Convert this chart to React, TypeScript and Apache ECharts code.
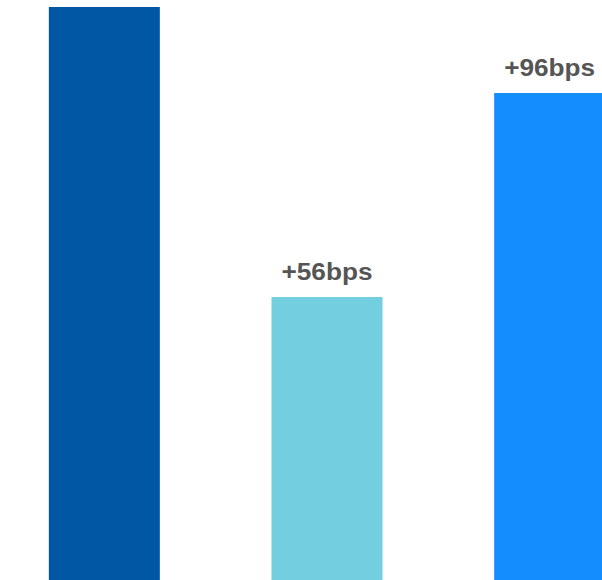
import React, { useEffect, useRef } from "react";
import * as echarts from "echarts";

const categories = ["A", "B", "C"];
const values = [573, 283, 487];
const labels = ["", "+56bps", "+96bps"];
const colors = ["#0057A4", "#73CFE0", "#148EFF"];

export default function App() {
  const ref = useRef<HTMLDivElement>(null);
  useEffect(() => {
    if (!ref.current) return;
    const chart = echarts.init(ref.current, null, { renderer: "svg" });
    chart.setOption({
      animation: false,
      grid: { left: 0, right: 0, top: 0, bottom: 0 },
      xAxis: {
        type: "category",
        data: categories,
        show: false,
      },
      yAxis: { type: "value", min: 0, max: 580, show: false },
      series: [
        {
          type: "bar",
          barWidth: 111,
          data: values.map((v, i) => ({
            value: v,
            itemStyle: { color: colors[i] },
          })),
        },
      ],
    });
    const texts = labels
      .map((t, i) => {
        if (!t) return null;
        const pt = chart.convertToPixel({ seriesIndex: 0 }, [i, values[i]]) as number[];
        return {
          type: "text",
          x: pt[0],
          y: pt[1] - 13,
          scaleX: 1.14,
          style: {
            text: t,
            x: 0,
            y: 0,
            align: "center",
            verticalAlign: "bottom",
            fontFamily: "Liberation Sans, Arial, sans-serif",
            fontWeight: "bold",
            fontSize: 23,
            fill: "#555555",
          },
        };
      })
      .filter(Boolean);
    chart.setOption({ graphic: texts });
    return () => chart.dispose();
  }, []);
  return (
    <div
      style={{
        position: "absolute",
        left: 0,
        top: 0,
        width: 602,
        height: 580,
        overflow: "hidden",
        background: "#fff",
      }}
    >
      <div
        ref={ref}
        style={{ position: "absolute", left: -7, top: 0, width: 668, height: 580 }}
      />
    </div>
  );
}
